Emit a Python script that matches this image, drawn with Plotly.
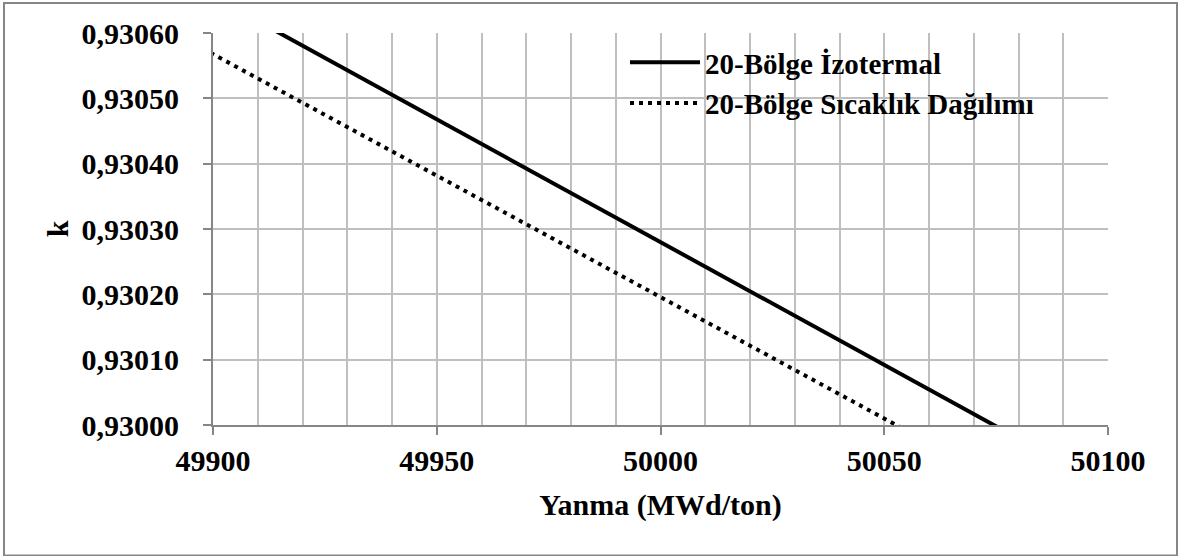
import plotly.graph_objects as go

# Data (burnup MWd/ton vs k)
burnup_iso = [49880, 50100]
k_iso = [0.930731, 0.929904]
burnup_dist = [49880, 50100]
k_dist = [0.930642, 0.929824]

name_iso = "20-Bölge İzotermal"
name_dist = "20-Bölge Sıcaklık Dağılımı"

x_ticks = [49900, 49950, 50000, 50050, 50100]
x_labels = ["49900", "49950", "50000", "50050", "50100"]
y_ticks = [0.93000, 0.93010, 0.93020, 0.93030, 0.93040, 0.93050, 0.93060]
y_labels = ["0,93000", "0,93010", "0,93020", "0,93030", "0,93040", "0,93050", "0,93060"]

FONT = "Liberation Serif, Times New Roman, serif"
W, H = 1180, 556
L, R, T, B = 213, 72, 33, 131
pw, ph = W - L - R, H - T - B

fig = go.Figure()
fig.add_trace(go.Scatter(x=burnup_iso, y=k_iso, mode="lines", name="<b>" + name_iso + "</b>",
                         line=dict(color="black", width=4)))
fig.add_trace(go.Scatter(x=burnup_dist, y=k_dist, mode="lines", name="<b>" + name_dist + "</b>",
                         line=dict(color="black", width=4, dash="4px,5px")))

fig.update_layout(
    width=W, height=H,
    margin=dict(l=L, r=R, t=T, b=B),
    paper_bgcolor="white", plot_bgcolor="white",
    font=dict(family=FONT, size=30, color="black"),
    showlegend=True,
    legend=dict(x=(625 - L) / pw, y=1 - (37 - T) / ph, xanchor="left", yanchor="top",
                bgcolor="rgba(0,0,0,0)", borderwidth=0,
                font=dict(family=FONT, size=29, color="black"),
                itemwidth=70, tracegroupgap=0),
)

fig.update_xaxes(
    range=[49900, 50100], tickvals=x_ticks, ticktext=["<b>%s</b>" % t for t in x_labels],
    showgrid=True, gridcolor="#BFBFBF", gridwidth=1.5,
    minor=dict(dtick=10, showgrid=True, gridcolor="#BFBFBF", gridwidth=1.5),
    showline=True, linecolor="#868686", linewidth=2,
    ticks="outside", ticklen=8, tickcolor="#868686", tickwidth=2,
    tickfont=dict(family=FONT, size=30, color="black"),
    title=dict(text="<b>Yanma (MWd/ton)</b>", font=dict(family=FONT, size=30), standoff=18),
    zeroline=False, mirror=False,
)
fig.update_yaxes(
    range=[0.93000, 0.93060], tickvals=y_ticks, ticktext=["<b>%s</b>" % t for t in y_labels],
    showgrid=True, gridcolor="#BFBFBF", gridwidth=1.5,
    showline=True, linecolor="#868686", linewidth=2,
    ticks="outside", ticklen=8, tickcolor="#868686", tickwidth=2, ticklabelstandoff=18,
    tickfont=dict(family=FONT, size=30, color="black"),
    title=dict(text="<b>k</b>", font=dict(family=FONT, size=30), standoff=4),
    zeroline=False,
)

# outer chart border
fig.add_shape(type="rect", xref="paper", yref="paper",
              x0=(4 - L) / pw, x1=(1177 - L) / pw,
              y0=1 - (555.5 - T) / ph, y1=1 - (3 - T) / ph,
              line=dict(color="#868686", width=2), fillcolor="rgba(0,0,0,0)", layer="below")

fig.write_html("out.html")
